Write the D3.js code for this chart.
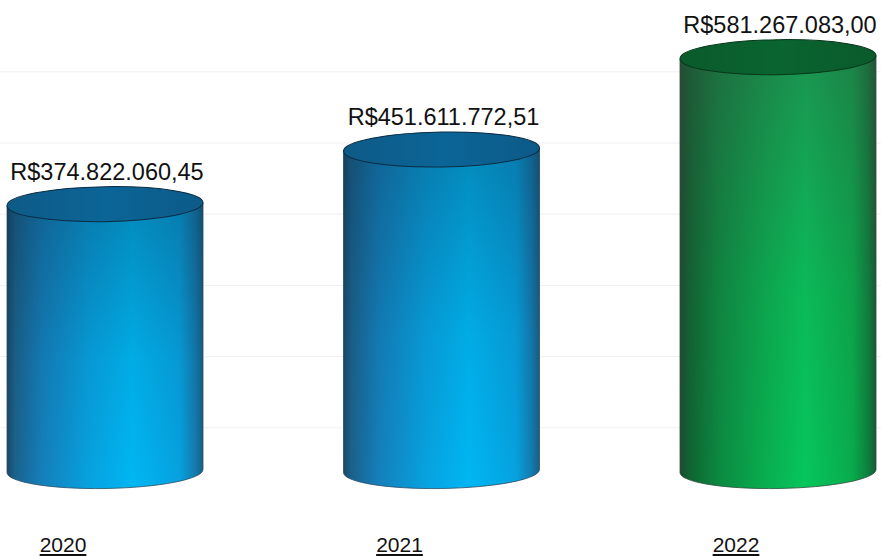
<!DOCTYPE html>
<html>
<head>
<meta charset="utf-8">
<script src="https://cdn.jsdelivr.net/npm/d3@7"></script>
<style>
  html, body { margin: 0; padding: 0; background: #fff; }
  svg { display: block; }
</style>
</head>
<body>
<svg id="chart" width="881" height="556"></svg>
<script>
const years = ["2020", "2021", "2022"];
const values = [374822060.45, 451611772.51, 581267083.00];
const valueLabels = ["R$374.822.060,45", "R$451.611.772,51", "R$581.267.083,00"];
const palette = ["blue", "blue", "green"];
const gridTicks = [100e6, 200e6, 300e6, 400e6, 500e6, 600e6];

const W = 881, H = 556;
const svg = d3.select("#chart");

const x = d3.scalePoint().domain(years).range([105, 778]);
const y = d3.scaleLinear().domain([0, 600e6]).range([471, 43.8]);
const rx = 98, ry = 17.5;
const gridOffset = 28;

const defs = svg.append("defs");
const schemes = {
  blue: {
    side: [[0, "#1c4866"], [0.04, "#1a628c"], [0.18, "#1480bc"], [0.42, "#07a2e0"], [0.64, "#00b7f3"], [0.88, "#06a2df"], [0.96, "#137cb0"], [1, "#185f88"]],
    shade: "#0a2a45", shadeOp: 0.32,
    top: [[0, "#0e5a86"], [0.5, "#0b6597"], [1, "#0c5a88"]],
    stroke: "#0b2c44",
    edge: "#2a4d63"
  },
  green: {
    side: [[0, "#1e4a30"], [0.05, "#0e6431"], [0.2, "#0b8a41"], [0.45, "#08b050"], [0.64, "#06c65c"], [0.88, "#08ab4c"], [0.96, "#0c803d"], [1, "#175a32"]],
    shade: "#3a4a40", shadeOp: 0.4,
    top: [[0, "#0b5a2c"], [0.5, "#09652f"], [1, "#0b5a2c"]],
    stroke: "#07361a",
    edge: "#2c4f3a"
  }
};
Object.entries(schemes).forEach(([k, s]) => {
  const g = defs.append("linearGradient").attr("id", "side-" + k)
    .attr("x1", 0).attr("x2", 1).attr("y1", 0).attr("y2", 0);
  s.side.forEach(([o, c]) => g.append("stop").attr("offset", o).attr("stop-color", c));
  const v = defs.append("linearGradient").attr("id", "shade-" + k)
    .attr("x1", 0).attr("x2", 0).attr("y1", 0).attr("y2", 1);
  v.append("stop").attr("offset", 0).attr("stop-color", s.shade).attr("stop-opacity", s.shadeOp);
  v.append("stop").attr("offset", 0.55).attr("stop-color", s.shade).attr("stop-opacity", s.shadeOp / 4);
  v.append("stop").attr("offset", 1).attr("stop-color", s.shade).attr("stop-opacity", 0);
  const t = defs.append("linearGradient").attr("id", "top-" + k)
    .attr("x1", 0).attr("x2", 1).attr("y1", 0).attr("y2", 0);
  s.top.forEach(([o, c]) => t.append("stop").attr("offset", o).attr("stop-color", c));
});

// faint gridlines
svg.append("g").selectAll("line").data(gridTicks).join("line")
  .attr("x1", 0).attr("x2", W)
  .attr("y1", d => y(d) + gridOffset).attr("y2", d => y(d) + gridOffset)
  .attr("stroke", "#f0f0f0").attr("stroke-width", 1);

const data = years.map((yr, i) => ({ yr, v: values[i], label: valueLabels[i], c: palette[i] }));

const cyl = svg.append("g").selectAll("g").data(data).join("g")
  .attr("transform", d => `translate(${x(d.yr)},0) skewY(-0.9)`);

function sidePath(d) {
  const yt = y(d.v), yb = y(0);
  return `M${-rx},${yt} L${-rx},${yb} A${rx},${ry} 0 0 0 ${rx},${yb} L${rx},${yt} Z`;
}
cyl.append("path").attr("d", sidePath)
  .attr("fill", d => `url(#side-${d.c})`)
  .attr("stroke", d => schemes[d.c].edge).attr("stroke-width", 0.8);
cyl.append("path").attr("d", sidePath)
  .attr("fill", d => `url(#shade-${d.c})`);
cyl.append("ellipse")
  .attr("cx", 0).attr("cy", d => y(d.v))
  .attr("rx", rx).attr("ry", ry)
  .attr("fill", d => `url(#top-${d.c})`)
  .attr("stroke", d => schemes[d.c].stroke).attr("stroke-width", 1);

// value labels
svg.append("g").selectAll("text").data(data).join("text")
  .attr("x", d => x(d.yr) + 2)
  .attr("y", d => y(d.v) - ry - 7)
  .attr("text-anchor", "middle")
  .attr("font-family", "'Liberation Sans', Arial, sans-serif")
  .attr("font-size", 23.5)
  .attr("fill", "#111")
  .text(d => d.label);

// category labels
svg.append("g").selectAll("text").data(data).join("text")
  .attr("x", d => x(d.yr) - 42)
  .attr("y", 552)
  .attr("text-anchor", "middle")
  .attr("font-family", "'Liberation Sans', Arial, sans-serif")
  .attr("font-size", 21)
  .attr("fill", "#111")
  .attr("text-decoration", "underline")
  .text(d => d.yr);
</script>
</body>
</html>
